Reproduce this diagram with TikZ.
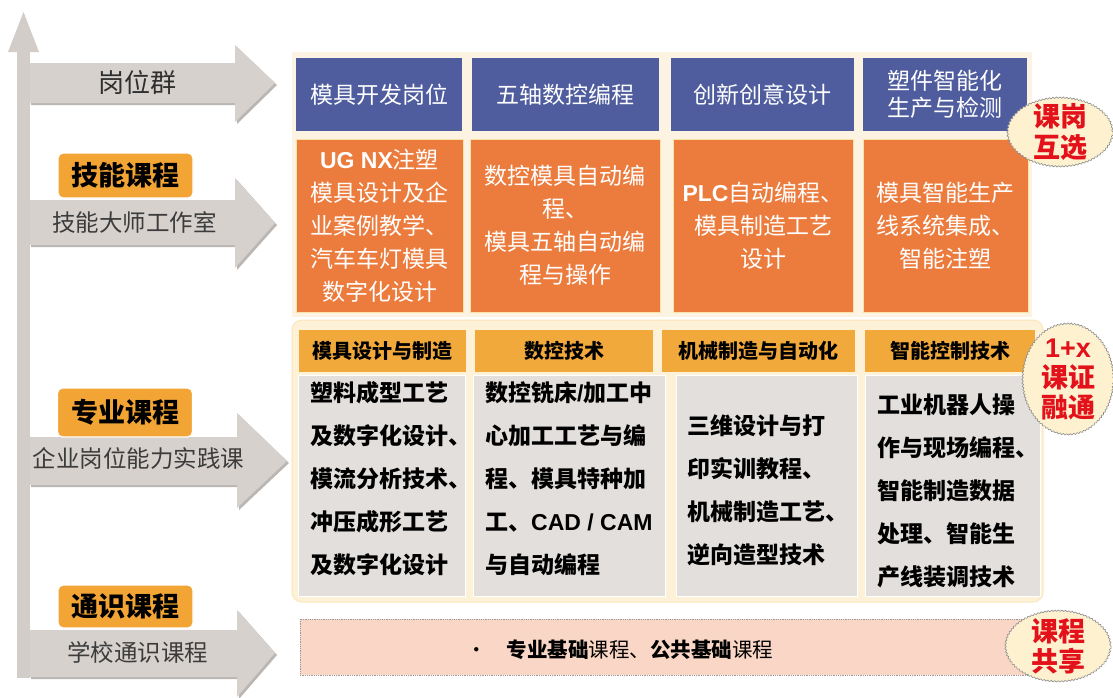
\documentclass[tikz,border=0pt]{standalone}
\usepackage{fontspec}
\setmainfont{Noto Sans CJK SC}
\newfontfamily\latb{Liberation Sans}
\usetikzlibrary{shapes.geometric,decorations.pathmorphing}
\definecolor{axgray}{HTML}{D3CDC9}
\definecolor{arrowgray}{HTML}{D6D1CD}
\definecolor{arrowshadow}{HTML}{BCB6B2}
\definecolor{lblorange}{HTML}{F2A435}
\definecolor{jobblue}{HTML}{4F5D9E}
\definecolor{skillorange}{HTML}{EC7C3D}
\definecolor{orgborder}{HTML}{FBE3A8}
\definecolor{panelcream}{HTML}{FCF3E3}
\definecolor{midcream}{HTML}{FDF1D8}
\definecolor{midborder}{HTML}{FBE6B8}
\definecolor{hdrorange}{HTML}{F2A93C}
\definecolor{cellgray}{HTML}{E3DFDC}
\definecolor{bottomfill}{HTML}{F9D6C5}
\definecolor{dotgray}{HTML}{9A9A9A}
\definecolor{badgefill}{HTML}{FDF1D0}
\definecolor{badgeline}{HTML}{8C8C8C}
\definecolor{badgered}{HTML}{E3121A}
\definecolor{textdark}{HTML}{2E2E2E}
\definecolor{textgray}{HTML}{3C3C3C}
\newcommand{\fsz}[2]{\fontsize{#1}{#2}\selectfont}
\tikzset{
  arrowbody/.style={fill=arrowgray},
  arrowshade/.style={fill=arrowshadow},
  lvl/.style={rounded corners=5pt, fill=lblorange, draw=white, line width=1.3pt,
    font=\fsz{27}{30}\bfseries, text=black, minimum width=135pt, minimum height=45pt, inner sep=0pt},
  lvltext/.style={font=\fsz{23.5}{28}, text=textgray, inner sep=0pt},
  blueb/.style={fill=jobblue, text=white, font=\fsz{23}{27}, align=center, inner sep=0pt, minimum height=73pt},
  orgb/.style={fill=skillorange, draw=orgborder, line width=0.8pt, text=white, font=\fsz{23}{33},
    align=center, inner sep=0pt, minimum height=173pt},
  hdr/.style={fill=hdrorange, font=\fsz{20}{24}\bfseries, text=black, minimum height=42pt, inner sep=0pt},
  gcell/.style={fill=cellgray, draw=white, line width=0.8pt, minimum height=221pt, inner sep=0pt},
  gtext/.style={font=\fsz{23}{43}\bfseries, text=black, align=left, anchor=west, inner sep=0pt},
  badgeshape/.style={ellipse, fill=badgefill, draw=badgeline, line width=0.6pt, inner sep=0pt,
    decorate, decoration={bumps, segment length=7pt, amplitude=1.3pt}},
  badgetext/.style={text=badgered, font=\fsz{27}{31}\bfseries, align=center, inner sep=0pt},
}
\begin{document}
\begin{tikzpicture}[x=1pt,y=-1pt]
\useasboundingbox[fill=white] (0,0) rectangle (1113,697);

% vertical axis
\fill[axgray] (17,52) rectangle (30,678);
\fill[axgray] (23.5,12) -- (39,52) -- (8,52) -- cycle;

% horizontal arrows (shadow + body)
\fill[arrowshade] (31,65) -- (237,65) -- (237,47) -- (277,85) -- (237,124) -- (237,105) -- (31,105) -- cycle;
\fill[arrowbody] (30,63) -- (235,63) -- (235,45) -- (275,83) -- (235,122) -- (235,103) -- (30,103) -- cycle;
\fill[arrowshade] (31,202) -- (237,202) -- (237,180) -- (277,225) -- (237,270) -- (237,247) -- (31,247) -- cycle;
\fill[arrowbody] (30,200) -- (235,200) -- (235,178) -- (275,223) -- (235,268) -- (235,245) -- (30,245) -- cycle;
\fill[arrowshade] (31,439) -- (239,439) -- (239,415) -- (289,463) -- (239,510) -- (239,487) -- (31,487) -- cycle;
\fill[arrowbody] (30,437) -- (237,437) -- (237,413) -- (287,461) -- (237,508) -- (237,485) -- (30,485) -- cycle;
\fill[arrowshade] (31,632) -- (239,632) -- (239,612) -- (277,655) -- (239,699) -- (239,679) -- (31,679) -- cycle;
\fill[arrowbody] (30,630) -- (237,630) -- (237,610) -- (275,653) -- (237,697) -- (237,677) -- (30,677) -- cycle;

% left texts and labels
\node[font=\fsz{26}{30}, text=textdark, inner sep=0pt] (gwq) at (137.5,83) {岗位群};
\node[lvl] (jn) at (125.5,175.5) {技能课程};
\node[lvltext] (jnt) at (134.5,222) {技能大师工作室};
\node[lvl, minimum height=49pt] (zy) at (125,412.5) {专业课程};
\node[lvltext] (zyt) at (138.5,459) {企业岗位能力实践课};
\node[lvl, minimum height=43pt] (ts) at (125.5,606.5) {通识课程};
\node[lvltext] (tst) at (137.5,652) {学校通识课程};

% top panel
\fill[panelcream] (292,52) rectangle (1032,317);
\node[blueb, minimum width=166pt] (j1) at (379,94.5) {模具开发岗位};
\node[blueb, minimum width=187pt] (j2) at (565.5,94.5) {五轴数控编程};
\node[blueb, minimum width=183pt] (j3) at (762.5,94.5) {创新创意设计};
\node[blueb, minimum width=164pt] (j4) at (945,94.5) {塑件智能化\\生产与检测};

\node[orgb, minimum width=167pt] (s1) at (379.5,225.5) {{\latb\bfseries UG NX}注塑\\模具设计及企\\业案例教学、\\汽车车灯模具\\数字化设计};
\node[orgb, minimum width=190pt] (s2) at (565,225.5) {数控模具自动编\\程、\\模具五轴自动编\\程与操作};
\node[orgb, minimum width=180pt] (s3) at (763,225.5) {{\latb\bfseries PLC}自动编程、\\模具制造工艺\\设计};
\node[orgb, minimum width=165pt] (s4) at (945.5,225.5) {模具智能生产\\线系统集成、\\智能注塑};

% middle panel
\draw[fill=midcream, draw=midborder, line width=1pt, rounded corners=10pt] (292,320) rectangle (1043,602);
\node[hdr, minimum width=167pt] (h1) at (382.5,351) {模具设计与制造};
\node[hdr, minimum width=178pt] (h2) at (564,351) {数控技术};
\node[hdr, minimum width=193pt] (h3) at (758.5,351) {机械制造与自动化};
\node[hdr, minimum width=170pt] (h4) at (950,351) {智能控制技术};

\node[gcell, minimum width=167pt] (g1) at (381.5,485.5) {};
\node[gcell, minimum width=192pt] (g2) at (569,485.5) {};
\node[gcell, minimum width=181pt] (g3) at (766.5,485.5) {};
\node[gcell, minimum width=175pt] (g4) at (952.5,485.5) {};
\node[gtext] (g1t) at (310,479) {塑料成型工艺\\及数字化设计、\\模流分析技术、\\冲压成形工艺\\及数字化设计};
\node[gtext] (g2t) at (485,479) {数控铣床{\latb /}加工中\\心加工工艺与编\\程、模具特种加\\工、{\latb CAD / CAM}\\与自动编程};
\node[gtext] (g3t) at (687,490) {三维设计与打\\印实训教程、\\机械制造工艺、\\逆向造型技术};
\node[gtext] (g4t) at (877,490.5) {工业机器人操\\作与现场编程、\\智能制造数据\\处理、智能生\\产线装调技术};

% bottom box
\draw[fill=bottomfill, draw=dotgray, densely dotted, line width=0.8pt] (300,619) rectangle (1045,675);
\node[font=\fsz{20.5}{24}, text=black, anchor=west, inner sep=0pt] (bt) at (466,650)
  {•\hspace{20pt}\textbf{专业基础}课程、\textbf{公共基础}课程};

% badges
\node[badgeshape, minimum width=106pt, minimum height=70pt] (b1) at (1060,132) {};
\node[badgetext] (b1t) at (b1.center) {课岗\\互选};
\node[badgeshape, minimum width=92pt, minimum height=112pt] (b2) at (1068,379) {};
\node[badgetext, font=\fsz{27}{30}\bfseries] (b2t) at (b2.center) {{\latb\bfseries 1+x}\\课证\\融通};
\node[badgeshape, minimum width=106pt, minimum height=72pt] (b3) at (1058,646) {};
\node[badgetext, font=\fsz{27}{30}\bfseries] (b3t) at (b3.center) {课程\\共享};
\end{tikzpicture}
\end{document}
